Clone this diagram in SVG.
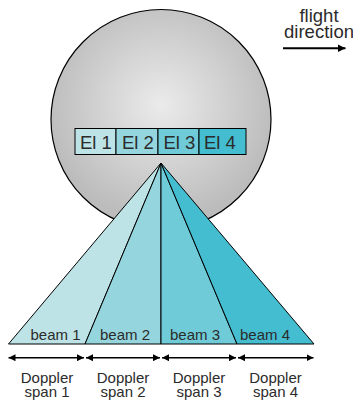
<svg xmlns="http://www.w3.org/2000/svg" width="353" height="401" viewBox="0 0 353 401">
<defs>
<radialGradient id="sphere" cx="161" cy="105" r="115" gradientUnits="userSpaceOnUse">
<stop offset="0" stop-color="#ebebeb"/>
<stop offset="1" stop-color="#bcbcbc"/>
</radialGradient>
<marker id="ah" viewBox="0 0 10 10" refX="10" refY="5" markerWidth="7" markerHeight="7" markerUnits="userSpaceOnUse" orient="auto-start-reverse">
<path d="M0,0 L10,5 L0,10 Z" fill="#000"/>
</marker>
<marker id="ahf" viewBox="0 0 10 10" refX="10" refY="5" markerWidth="8" markerHeight="9" markerUnits="userSpaceOnUse" orient="auto">
<path d="M0,0 L10,5 L0,10 Z" fill="#000"/>
</marker>
</defs>
<style>
.t{font-family:"Liberation Sans",Arial,sans-serif;fill:#2b2b2b}
.el{font-size:18.5px}
.bm{font-size:15px}
.dp{font-size:15px;text-anchor:middle}
.c1{fill:#bee3e6}
.c2{fill:#95d6de}
.c3{fill:#6fcbd8}
.c4{fill:#44bdd1}
.ol{stroke:#000;stroke-width:1}
</style>
<g id="antenna">
<circle cx="161" cy="119.5" r="110" fill="url(#sphere)" stroke="#000" stroke-width="1.2"/>
</g>
<g id="beams">
<g id="beam1"><polygon class="c1 ol" points="161,163 8.5,344 85,344"/><text class="t bm" x="30.5" y="340">beam 1</text></g>
<g id="beam2"><polygon class="c2 ol" points="161,163 85,344 161,344"/><text class="t bm" x="100" y="340">beam 2</text></g>
<g id="beam3"><polygon class="c3 ol" points="161,163 161,344 237,344"/><text class="t bm" x="170" y="340">beam 3</text></g>
<g id="beam4"><polygon class="c4 ol" points="161,163 237,344 314,344"/><text class="t bm" x="240" y="340">beam 4</text></g>
</g>
<g id="elements">
<g id="el1"><rect class="c1 ol" x="75" y="128.5" width="41" height="26"/><text class="t el" x="80" y="149">El 1</text></g>
<g id="el2"><rect class="c2 ol" x="116" y="128.5" width="42" height="26"/><text class="t el" x="122" y="149">El 2</text></g>
<g id="el3"><rect class="c3 ol" x="158" y="128.5" width="41" height="26"/><text class="t el" x="163.5" y="149">El 3</text></g>
<g id="el4"><rect class="c4 ol" x="199" y="128.5" width="47" height="26"/><text class="t el" x="204" y="149">El 4</text></g>
</g>
<g id="flight">
<text class="t el" x="319" y="21.5" text-anchor="middle" fill="#222">flight</text>
<text class="t el" x="319" y="37.5" text-anchor="middle" fill="#222">direction</text>
</g>
<g id="connectors" stroke="#000" fill="none">
<line x1="283" y1="48.3" x2="345.5" y2="48.3" stroke-width="2" marker-end="url(#ahf)"/>
<line x1="8.5" y1="357.7" x2="84" y2="357.7" stroke-width="1.5" marker-start="url(#ah)" marker-end="url(#ah)"/>
<line x1="86" y1="357.7" x2="160" y2="357.7" stroke-width="1.5" marker-start="url(#ah)" marker-end="url(#ah)"/>
<line x1="162" y1="357.7" x2="236" y2="357.7" stroke-width="1.5" marker-start="url(#ah)" marker-end="url(#ah)"/>
<line x1="238" y1="357.7" x2="313.5" y2="357.7" stroke-width="1.5" marker-start="url(#ah)" marker-end="url(#ah)"/>
</g>
<g id="spans">
<text class="t dp" x="47" y="382.7">Doppler</text><text class="t dp" x="47" y="397.3">span 1</text>
<text class="t dp" x="123" y="382.7">Doppler</text><text class="t dp" x="123" y="397.3">span 2</text>
<text class="t dp" x="199" y="382.7">Doppler</text><text class="t dp" x="199" y="397.3">span 3</text>
<text class="t dp" x="275.5" y="382.7">Doppler</text><text class="t dp" x="275.5" y="397.3">span 4</text>
</g>
</svg>
